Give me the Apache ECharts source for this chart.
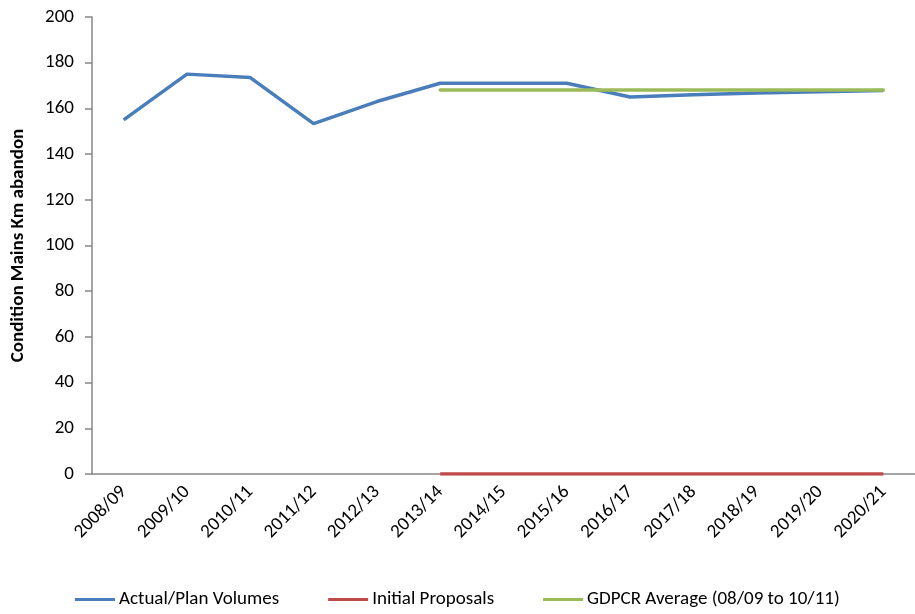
<!DOCTYPE html>
<html>
<head>
<meta charset="utf-8">
<script src="https://cdn.jsdelivr.net/npm/echarts@6/dist/echarts.min.js"></script>
<style>
  html, body { margin: 0; padding: 0; background: #fff; }
  #chart { width: 915px; height: 614px; }
</style>
</head>
<body>
<div id="chart"></div>
<script>
// 年度类目
const years = ['2008/09', '2009/10', '2010/11', '2011/12', '2012/13', '2013/14', '2014/15',
  '2015/16', '2016/17', '2017/18', '2018/19', '2019/20', '2020/21']
// 实际/计划量
const actualPlan = [155, 175, 173.5, 153.3, 163, 171, 171, 171, 165, 166, 166.7, 167.3, 167.8]
// 初始提案（从 2013/14 起）
const initialProposals = [null, null, null, null, null, 0, 0, 0, 0, 0, 0, 0, 0]
// GDPCR 平均值
const gdpcrAverage = [null, null, null, null, null, 168, 168, 168, 168, 168, 168, 168, 168]
const yTicks = [0, 20, 40, 60, 80, 100, 120, 140, 160, 180, 200]

const font = 'Carlito, "Liberation Sans Narrow", "Open Sans", sans-serif'
const axisGray = '#868686'

const chart = echarts.init(document.getElementById('chart'))
chart.setOption({
  animation: false,
  textStyle: { fontFamily: font },
  // 右侧超出画布，与原图一致被裁掉
  grid: { left: 92, right: -9, top: 17, bottom: 140 },
  legend: {
    bottom: 0,
    left: 70,
    itemGap: 49,
    itemWidth: 40,
    itemHeight: 3,
    icon: 'rect',
    textStyle: { fontFamily: font, fontSize: 19, color: '#000', padding: [0, 0, 0, -1] },
    data: ['Actual/Plan Volumes', 'Initial Proposals', 'GDPCR Average (08/09 to 10/11)']
  },
  xAxis: {
    type: 'category',
    data: years,
    boundaryGap: true,
    axisLine: { lineStyle: { color: axisGray, width: 1.5 } },
    axisTick: { length: 7, lineStyle: { color: axisGray, width: 1.5 } },
    axisLabel: { rotate: 45, interval: 0, fontSize: 19, color: '#000', margin: 15, fontFamily: font },
    splitLine: { show: false }
  },
  yAxis: {
    type: 'value',
    min: yTicks[0],
    max: yTicks[yTicks.length - 1],
    interval: 20,
    name: 'Condition Mains Km abandon',
    nameLocation: 'middle',
    nameGap: 64,
    nameTextStyle: { fontFamily: font, fontSize: 19, fontWeight: 'bold', color: '#000' },
    axisLine: { show: true, lineStyle: { color: axisGray, width: 1.5 } },
    axisTick: { show: true, length: 7, lineStyle: { color: axisGray, width: 1.5 } },
    axisLabel: { fontSize: 19, color: '#000', margin: 18, fontFamily: font },
    splitLine: { show: false }
  },
  series: [
    {
      name: 'Actual/Plan Volumes',
      type: 'line',
      data: actualPlan,
      symbol: 'none',
      color: '#4A7EBB',
      lineStyle: { width: 3.5, color: '#4A7EBB' },
      z: 3
    },
    {
      name: 'Initial Proposals',
      type: 'line',
      data: initialProposals,
      symbol: 'none',
      color: '#BE4B48',
      lineStyle: { width: 3.5, color: '#BE4B48' },
      z: 4
    },
    {
      name: 'GDPCR Average (08/09 to 10/11)',
      type: 'line',
      data: gdpcrAverage,
      symbol: 'none',
      color: '#9BBB59',
      lineStyle: { width: 3.5, color: '#9BBB59', cap: 'round' },
      z: 4
    }
  ]
})
</script>
</body>
</html>
